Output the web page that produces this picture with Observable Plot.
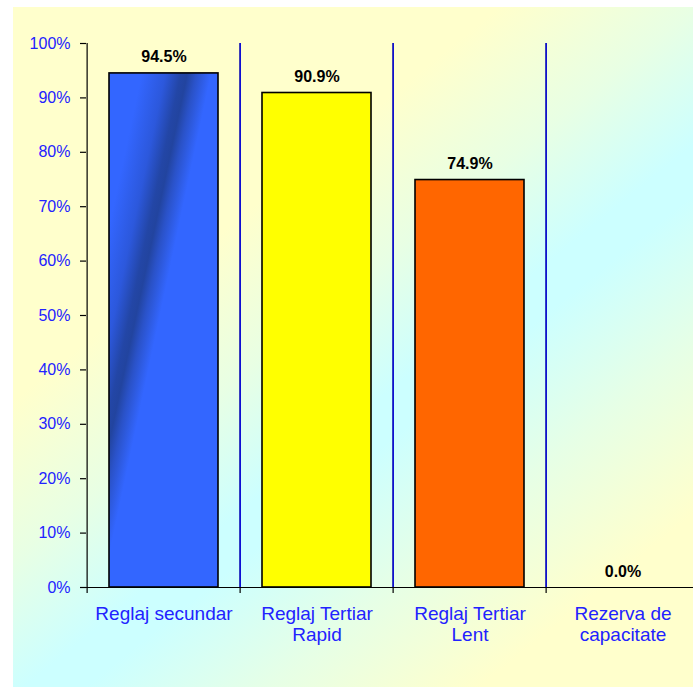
<!DOCTYPE html>
<html>
<head>
<meta charset="utf-8">
<script src="https://cdn.jsdelivr.net/npm/d3@7"></script>
<script src="https://cdn.jsdelivr.net/npm/@observablehq/plot@0.6"></script>
<style>
  html, body { margin: 0; padding: 0; background: #ffffff; }
  #wrap { position: relative; width: 693px; height: 687px; overflow: hidden; background: #ffffff; }
  #bg { position: absolute; left: 13px; top: 7px; width: 680px; height: 680px;
        background: linear-gradient(141deg, #ffffcc 0%, #ffffcc 32%, #e8ffe4 45%, #ccffff 56%, #ccffff 60%, #e6ffe6 72%, #ffffcc 86%, #ffffcc 100%); }
  #chart { position: absolute; left: 0; top: 0; }
</style>
</head>
<body>
<div id="wrap"><div id="bg"></div><div id="chart"></div></div>
<script>
const categories = ["Reglaj secundar", "Reglaj Tertiar Rapid", "Reglaj Tertiar Lent", "Rezerva de capacitate"];
const tickLabels = ["Reglaj secundar", "Reglaj Tertiar\nRapid", "Reglaj Tertiar\nLent", "Rezerva de\ncapacitate"];
const values = [94.5, 90.9, 74.9, 0.0];
const valueLabels = ["94.5%", "90.9%", "74.9%", "0.0%"];
const yTicks = [0, 10, 20, 30, 40, 50, 60, 70, 80, 90, 100];
const yTickLabels = ["0%", "10%", "20%", "30%", "40%", "50%", "60%", "70%", "80%", "90%", "100%"];
const barFills = ["url(#blueStreak)", "#ffff00", "#ff6600", "#cccccc"];

const data = categories.map((c, i) => ({cat: c, value: values[i], label: valueLabels[i], tick: tickLabels[i], fill: barFills[i]}));

const W = 693, H = 687;
const xRange = [86, 701];
const step = (xRange[1] - xRange[0]) / categories.length;
const blue = "#2222ff";
const font = "Liberation Sans, Arial, sans-serif";

const plot = Plot.plot({
  width: W,
  height: H,
  marginLeft: 86,
  marginRight: 0,
  marginTop: 43,
  marginBottom: 100,
  style: {background: "transparent", fontFamily: font},
  x: {domain: categories, range: xRange, paddingInner: 0.286, paddingOuter: 0.143, axis: null, label: null},
  y: {domain: [0, 100], axis: null, label: null},
  color: {type: "identity"},
  marks: [
    // boundary ticks (black), extending slightly below the axis
    Plot.ruleX(categories, {x: d => d, dx: -step / 2, stroke: "#000000", strokeWidth: 1.2, insetBottom: -6}),
    // blue separators between categories
    Plot.ruleX(categories.slice(1), {x: d => d, dx: -step / 2, stroke: "#0000ff", strokeWidth: 1.3}),
    // x axis line
    Plot.ruleY([0], {stroke: "#000000", strokeWidth: 1.2}),
    // y axis ticks and labels
    Plot.axisY({ticks: yTicks, tickFormat: (d) => yTickLabels[yTicks.indexOf(d)], tickSize: 6, tickPadding: 10,
      label: null, stroke: "#000000", fill: blue, fontSize: 16, fontFamily: font, strokeWidth: 1.2}),
    // bars
    Plot.barY(data, {x: "cat", y: "value", fill: "fill", stroke: "#000000", strokeWidth: 1.6}),
    // value labels
    Plot.text(data, {x: "cat", y: "value", text: "label", lineAnchor: "bottom", dy: -11,
      fontSize: 16, fontWeight: "bold", fill: "#000000", fontFamily: font}),
    // category labels
    Plot.text(data, {x: "cat", frameAnchor: "bottom", text: "tick", lineAnchor: "top", dy: 18,
      fontSize: 19, lineHeight: 1.1, fill: blue, fontFamily: font})
  ]
});

// gradient definition for the blue bar's diagonal dark streak
const svgNS = "http://www.w3.org/2000/svg";
const defs = document.createElementNS(svgNS, "defs");
const grad = document.createElementNS(svgNS, "linearGradient");
grad.setAttribute("id", "blueStreak");
grad.setAttribute("x1", "0"); grad.setAttribute("y1", "0");
grad.setAttribute("x2", "1"); grad.setAttribute("y2", "1");
[["0", "#3366ff"], ["0.15", "#3366ff"], ["0.26", "#2c58dc"], ["0.33", "#2346a6"], ["0.36", "#22449f"], ["0.4", "#2a52c8"], ["0.47", "#3366ff"], ["1", "#3366ff"]].forEach(([o, c]) => {
  const s = document.createElementNS(svgNS, "stop");
  s.setAttribute("offset", o);
  s.setAttribute("stop-color", c);
  grad.appendChild(s);
});
defs.appendChild(grad);
plot.insertBefore(defs, plot.firstChild);

document.getElementById("chart").appendChild(plot);
</script>
</body>
</html>
